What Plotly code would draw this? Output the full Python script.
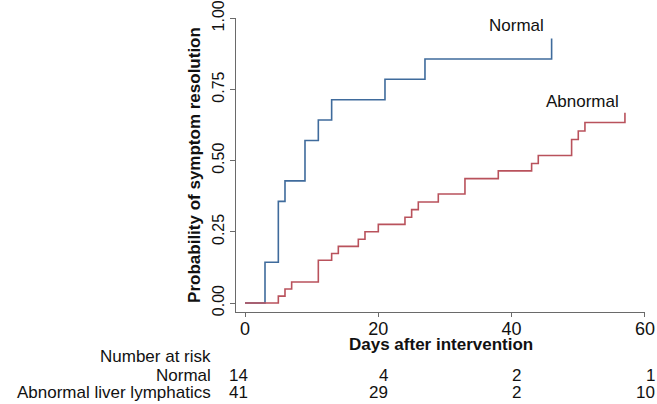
import plotly.graph_objects as go

# Kaplan-Meier style curves
normal_days = [0, 3, 5, 6, 9, 11, 13, 21, 27, 46]
normal_prob = [0, 0.143, 0.357, 0.429, 0.571, 0.643, 0.714, 0.786, 0.857, 0.929]

abnormal_days = [0, 5, 6, 7, 11, 13, 14, 17, 18, 20, 24, 25, 26, 29, 33, 38, 43, 44, 49, 50, 51, 57]
abnormal_prob = [0, 0.024, 0.049, 0.074, 0.150, 0.174, 0.199, 0.224, 0.250, 0.276, 0.301, 0.328,
                 0.355, 0.383, 0.437, 0.464, 0.490, 0.518, 0.574, 0.604, 0.634, 0.668]

risk_days = [0, 20, 40, 60]
risk_normal = [14, 4, 2, 1]
risk_abnormal = [41, 29, 2, 10]
risk_rows = ["Normal", "Abnormal liver lymphatics"]

y_ticks = [0, 0.25, 0.5, 0.75, 1.0]
y_ticktext = ["0.00", "0.25", "0.50", "0.75", "1.00"]

BLUE = "#3f6b9c"
RED = "#b9525c"
AXIS = "#6a6a6a"
INK = "#111"
FONT = "Liberation Sans, Arial, sans-serif"

fig = go.Figure()
fig.add_trace(go.Scatter(x=normal_days, y=normal_prob, mode="lines", line_shape="hv",
                         line=dict(color=BLUE, width=1.6), showlegend=False))
fig.add_trace(go.Scatter(x=abnormal_days, y=abnormal_prob, mode="lines", line_shape="hv",
                         line=dict(color=RED, width=1.6), showlegend=False))

# curve labels
fig.add_annotation(x=40.7, y=0.975, text="Normal", showarrow=False,
                   font=dict(size=17, color=INK), xanchor="center", yanchor="middle")
fig.add_annotation(x=50.7, y=0.708, text="Abnormal", showarrow=False,
                   font=dict(size=17, color=INK), xanchor="center", yanchor="middle")

# x axis title placed by hand (Stata puts it tight under the tick labels)
fig.add_annotation(x=0.5, y=-0.111, xref="paper", yref="paper",
                   text="<b>Days after intervention</b>", showarrow=False,
                   xanchor="center", yanchor="middle", font=dict(size=17, color=INK))

# number at risk table (row labels in paper coords, counts under the ticks)
label_x = -0.057
row_y = [-0.2143, -0.2738]
col_shift = [5, 12, 11, 12]
fig.add_annotation(x=label_x, y=-0.1514, xref="paper", yref="paper", text="Number at risk",
                   showarrow=False, xanchor="right", yanchor="middle",
                   font=dict(size=17, color=INK))
for label, yy, counts in zip(risk_rows, row_y, [risk_normal, risk_abnormal]):
    fig.add_annotation(x=label_x, y=yy, xref="paper", yref="paper", text=label,
                       showarrow=False, xanchor="right", yanchor="middle",
                       font=dict(size=17, color=INK))
    for d, n, sh in zip(risk_days, counts, col_shift):
        fig.add_annotation(x=d, y=yy, xref="x", yref="paper", text=str(n),
                           showarrow=False, xanchor="right", yanchor="middle", xshift=sh,
                           font=dict(size=17, color=INK))

fig.update_xaxes(range=[-1.35, 60.01], tickvals=risk_days, ticks="outside", ticklen=4,
                 tickcolor=AXIS, showline=True, linecolor=AXIS, linewidth=1.2,
                 showgrid=False, zeroline=False, tickfont=dict(size=18, color=INK),
                 ticklabelstandoff=-4, automargin=False, ticklabeloverflow="allow")
fig.update_yaxes(range=[-0.0316, 1.001], tickvals=y_ticks, ticktext=y_ticktext, tickangle=-90,
                 ticks="outside", ticklen=5, tickcolor=AXIS, showline=True, linecolor=AXIS,
                 linewidth=1.2, showgrid=False, zeroline=False, automargin=False,
                 ticklabeloverflow="allow", tickfont=dict(size=16, color=INK),
                 title=dict(text="<b>Probability of symptom resolution</b>",
                            font=dict(size=17, color=INK), standoff=4))

fig.update_layout(width=657, height=404, margin=dict(l=236, r=12, t=18, b=92),
                  paper_bgcolor="white", plot_bgcolor="white",
                  font=dict(family=FONT, color=INK))

# drop the default 8px page margin so the figure sits at the window origin
fig.write_html("out.html", config={"displayModeBar": False},
               post_script="document.body.style.margin='0';")
